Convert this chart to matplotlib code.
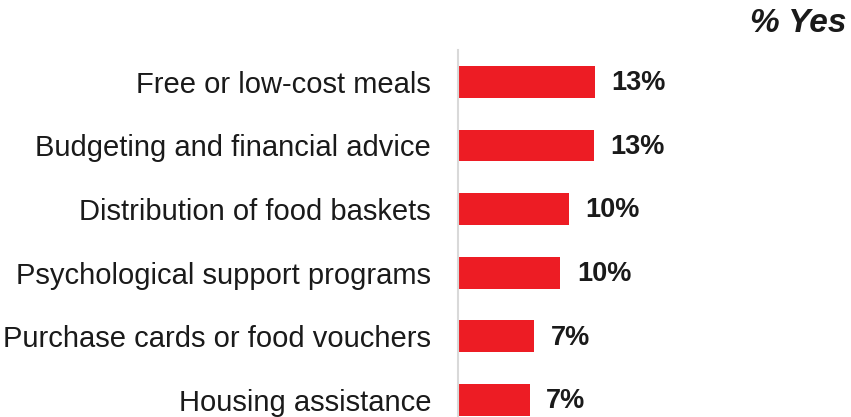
import matplotlib.pyplot as plt

plt.rcParams['font.family'] = ['Liberation Sans', 'DejaVu Sans']

categories = ['Free or low-cost meals', 'Budgeting and financial advice',
              'Distribution of food baskets', 'Psychological support programs',
              'Purchase cards or food vouchers', 'Housing assistance']
pct_yes = [13.0, 12.9, 10.5, 9.7, 7.2, 6.8]

fig = plt.figure(figsize=(8.51, 4.17), dpi=100)
ax = fig.add_axes([458/851, 0, 393/851, 367/417])

pos = range(len(categories))
bars = ax.barh(pos, pct_yes, height=0.5, color='#ED1C24')
ax.set_ylim(5.27, -0.5)
ax.set_xlim(0, 37.3)

ax.set_yticks(list(pos))
ax.set_yticklabels(categories, fontsize=21, color='#1a1a1a')
ax.tick_params(axis='y', length=0, pad=19.4)
ax.set_xticks([])

for s in ['top', 'right', 'bottom']:
    ax.spines[s].set_visible(False)
ax.spines['left'].set_color('#d9d9d9')
ax.spines['left'].set_linewidth(1.5)

for b, v in zip(bars, pct_yes):
    ax.annotate(f'{v:.0f}%', (b.get_width(), b.get_y() + b.get_height()/2),
                xytext=(12, -1), textcoords='offset points',
                ha='left', va='center', fontsize=19.5, fontweight='bold',
                color='#1a1a1a')

fig.text(846/851, 1 - 23/417, '% Yes', ha='right', va='center', fontsize=24,
         fontweight='bold', fontstyle='italic', color='#1a1a1a')

fig.savefig('out.png', dpi=100)
